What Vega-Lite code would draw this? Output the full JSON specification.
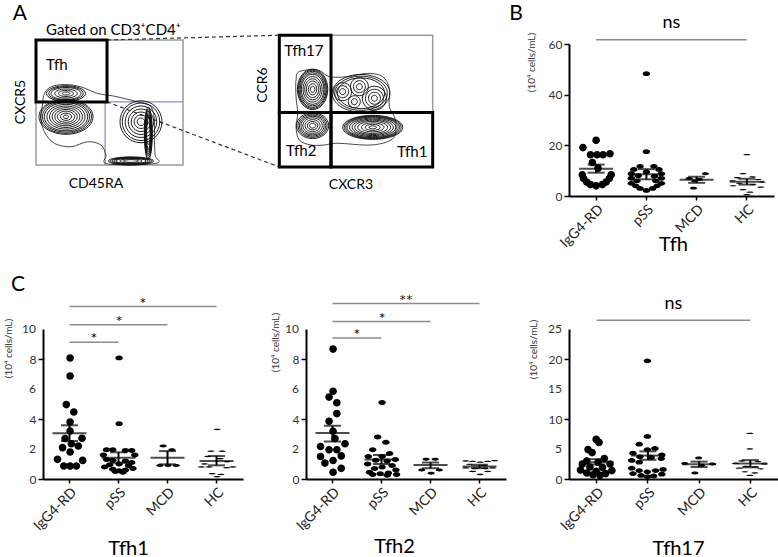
{
"$schema": "https://vega.github.io/schema/vega-lite/v6.json",
"background": "white",
"padding": {"left": 2, "top": 2, "right": 0, "bottom": 0},
"config": {
 "font": "Lato",
 "view": {"stroke": null},
 "axis": {"domainColor": "#000", "domainWidth": 2, "tickColor": "#000", "tickWidth": 1.5, "tickSize": 5, "labelFont": "Lato", "labelColor": "#333", "titleFont": "Lato", "titleFontWeight": "normal", "grid": false, "labelPadding": 2, "labelOverlap": false},
 "axisX": {"labelAngle": -45, "labelFontSize": 14, "titleFontSize": 20, "titleColor": "#000", "labelColor": "#222", "tickSize": 4},
 "axisY": {"labelAngle": 0, "labelFontSize": 12, "titleFontSize": 10, "titleColor": "#333", "titleAngle": 270, "titleAlign": "center", "titleBaseline": "middle", "labelOverlap": false, "labelFlush": false},
 "text": {"font": "Lato", "color": "#000"}
},
"datasets": {
 "pts": [
  {"p":"B","g":"IgG4-RD","v":22.0,"s":0},{"p":"B","g":"IgG4-RD","v":19.1,"s":-2.1},{"p":"B","g":"IgG4-RD","v":16.3,"s":-0.9},{"p":"B","g":"IgG4-RD","v":16.3,"s":0.15},{"p":"B","g":"IgG4-RD","v":16.3,"s":1.1},{"p":"B","g":"IgG4-RD","v":16.7,"s":2.2},{"p":"B","g":"IgG4-RD","v":13.2,"s":-0.6},{"p":"B","g":"IgG4-RD","v":11.0,"s":0.3},{"p":"B","g":"IgG4-RD","v":8.4,"s":-2.2},{"p":"B","g":"IgG4-RD","v":8.4,"s":2.4},{"p":"B","g":"IgG4-RD","v":6.9,"s":-2},{"p":"B","g":"IgG4-RD","v":6.9,"s":2.1},{"p":"B","g":"IgG4-RD","v":5.5,"s":-1.5},{"p":"B","g":"IgG4-RD","v":5.5,"s":1.6},{"p":"B","g":"IgG4-RD","v":4.5,"s":-0.9},{"p":"B","g":"IgG4-RD","v":4.5,"s":1},{"p":"B","g":"IgG4-RD","v":4.0,"s":0},
  {"p":"B","g":"pSS","v":48.3,"s":0},{"p":"B","g":"pSS","v":17.5,"s":0},{"p":"B","g":"pSS","v":11.7,"s":-1},{"p":"B","g":"pSS","v":11.7,"s":1.2},{"p":"B","g":"pSS","v":10.5,"s":-2},{"p":"B","g":"pSS","v":10.5,"s":2},{"p":"B","g":"pSS","v":9.5,"s":0},{"p":"B","g":"pSS","v":8.8,"s":-2.4},{"p":"B","g":"pSS","v":8.8,"s":2.4},{"p":"B","g":"pSS","v":8.0,"s":-1.3},{"p":"B","g":"pSS","v":7.8,"s":1.3},{"p":"B","g":"pSS","v":7.0,"s":-2.4},{"p":"B","g":"pSS","v":7.0,"s":2.4},{"p":"B","g":"pSS","v":6.0,"s":-1.5},{"p":"B","g":"pSS","v":6.0,"s":1.5},{"p":"B","g":"pSS","v":5.0,"s":-2.4},{"p":"B","g":"pSS","v":5.0,"s":2.4},{"p":"B","g":"pSS","v":4.0,"s":-1.7},{"p":"B","g":"pSS","v":4.0,"s":1.7},{"p":"B","g":"pSS","v":3.0,"s":-1},{"p":"B","g":"pSS","v":3.0,"s":1},{"p":"B","g":"pSS","v":2.2,"s":0},
  {"p":"B","g":"MCD","v":8.8,"s":1.4},{"p":"B","g":"MCD","v":6.9,"s":-1.2},{"p":"B","g":"MCD","v":6.5,"s":0.5},{"p":"B","g":"MCD","v":5.9,"s":-0.3},{"p":"B","g":"MCD","v":3.1,"s":-0.5},
  {"p":"B","g":"HC","v":16.3,"s":0},{"p":"B","g":"HC","v":8.8,"s":-0.6},{"p":"B","g":"HC","v":7.5,"s":0.9},{"p":"B","g":"HC","v":7.2,"s":-1.5},{"p":"B","g":"HC","v":6.5,"s":1.8},{"p":"B","g":"HC","v":6.0,"s":-2.3},{"p":"B","g":"HC","v":5.5,"s":2.5},{"p":"B","g":"HC","v":5.0,"s":-1.2},{"p":"B","g":"HC","v":4.5,"s":1.0},{"p":"B","g":"HC","v":4.0,"s":-2.2},{"p":"B","g":"HC","v":3.5,"s":2.2},{"p":"B","g":"HC","v":2.5,"s":-0.6},{"p":"B","g":"HC","v":1.5,"s":0.5},{"p":"B","g":"HC","v":0.5,"s":0},
  {"p":"Tfh1","g":"IgG4-RD","v":8.07,"s":0},{"p":"Tfh1","g":"IgG4-RD","v":6.87,"s":0},{"p":"Tfh1","g":"IgG4-RD","v":4.96,"s":-0.6},{"p":"Tfh1","g":"IgG4-RD","v":4.47,"s":0.6},{"p":"Tfh1","g":"IgG4-RD","v":3.8,"s":0},{"p":"Tfh1","g":"IgG4-RD","v":3.2,"s":0},{"p":"Tfh1","g":"IgG4-RD","v":2.7,"s":-0.8},{"p":"Tfh1","g":"IgG4-RD","v":2.72,"s":1.9},{"p":"Tfh1","g":"IgG4-RD","v":2.35,"s":0.2},{"p":"Tfh1","g":"IgG4-RD","v":2.09,"s":-1.2},{"p":"Tfh1","g":"IgG4-RD","v":2.2,"s":1.3},{"p":"Tfh1","g":"IgG4-RD","v":1.8,"s":0},{"p":"Tfh1","g":"IgG4-RD","v":1.31,"s":-2},{"p":"Tfh1","g":"IgG4-RD","v":1.24,"s":2},{"p":"Tfh1","g":"IgG4-RD","v":0.87,"s":-1},{"p":"Tfh1","g":"IgG4-RD","v":0.86,"s":0},{"p":"Tfh1","g":"IgG4-RD","v":0.87,"s":1},
  {"p":"Tfh1","g":"pSS","v":8.07,"s":0},{"p":"Tfh1","g":"pSS","v":3.69,"s":0},{"p":"Tfh1","g":"pSS","v":1.95,"s":-2},{"p":"Tfh1","g":"pSS","v":1.95,"s":-1},{"p":"Tfh1","g":"pSS","v":1.9,"s":1},{"p":"Tfh1","g":"pSS","v":1.9,"s":2},{"p":"Tfh1","g":"pSS","v":1.6,"s":-2.5},{"p":"Tfh1","g":"pSS","v":1.6,"s":2.5},{"p":"Tfh1","g":"pSS","v":1.3,"s":-2},{"p":"Tfh1","g":"pSS","v":1.25,"s":-1},{"p":"Tfh1","g":"pSS","v":1.2,"s":1},{"p":"Tfh1","g":"pSS","v":1.1,"s":2},{"p":"Tfh1","g":"pSS","v":1.0,"s":0},{"p":"Tfh1","g":"pSS","v":0.95,"s":-1.5},{"p":"Tfh1","g":"pSS","v":0.9,"s":1.5},{"p":"Tfh1","g":"pSS","v":0.8,"s":-2.3},{"p":"Tfh1","g":"pSS","v":0.7,"s":2.2},{"p":"Tfh1","g":"pSS","v":0.65,"s":-1},{"p":"Tfh1","g":"pSS","v":0.6,"s":1},{"p":"Tfh1","g":"pSS","v":0.55,"s":0},{"p":"Tfh1","g":"pSS","v":0.5,"s":-0.6},{"p":"Tfh1","g":"pSS","v":0.45,"s":0.6},
  {"p":"Tfh1","g":"MCD","v":2.2,"s":-0.8},{"p":"Tfh1","g":"MCD","v":1.95,"s":0.6},{"p":"Tfh1","g":"MCD","v":0.9,"s":-1.3},{"p":"Tfh1","g":"MCD","v":0.9,"s":0},{"p":"Tfh1","g":"MCD","v":0.9,"s":1.3},
  {"p":"Tfh1","g":"HC","v":3.3,"s":0},{"p":"Tfh1","g":"HC","v":1.85,"s":-1},{"p":"Tfh1","g":"HC","v":1.85,"s":0.8},{"p":"Tfh1","g":"HC","v":1.5,"s":-1.5},{"p":"Tfh1","g":"HC","v":1.35,"s":0.5},{"p":"Tfh1","g":"HC","v":1.15,"s":1.6},{"p":"Tfh1","g":"HC","v":1.0,"s":-2},{"p":"Tfh1","g":"HC","v":0.8,"s":-2.5},{"p":"Tfh1","g":"HC","v":0.8,"s":-1.3},{"p":"Tfh1","g":"HC","v":0.8,"s":2.5},{"p":"Tfh1","g":"HC","v":0.75,"s":1.5},{"p":"Tfh1","g":"HC","v":0.35,"s":-0.8},{"p":"Tfh1","g":"HC","v":0.3,"s":0.6},{"p":"Tfh1","g":"HC","v":0.15,"s":0},
  {"p":"Tfh2","g":"IgG4-RD","v":8.66,"s":0},{"p":"Tfh2","g":"IgG4-RD","v":5.85,"s":0},{"p":"Tfh2","g":"IgG4-RD","v":5.46,"s":-0.64},{"p":"Tfh2","g":"IgG4-RD","v":5.08,"s":0.6},{"p":"Tfh2","g":"IgG4-RD","v":4.36,"s":0.6},{"p":"Tfh2","g":"IgG4-RD","v":3.85,"s":-0.64},{"p":"Tfh2","g":"IgG4-RD","v":3.18,"s":0},{"p":"Tfh2","g":"IgG4-RD","v":2.7,"s":0.3},{"p":"Tfh2","g":"IgG4-RD","v":2.35,"s":1.9},{"p":"Tfh2","g":"IgG4-RD","v":2.17,"s":-2},{"p":"Tfh2","g":"IgG4-RD","v":1.95,"s":-0.64},{"p":"Tfh2","g":"IgG4-RD","v":1.95,"s":0.6},{"p":"Tfh2","g":"IgG4-RD","v":1.54,"s":1.3},{"p":"Tfh2","g":"IgG4-RD","v":1.5,"s":-2},{"p":"Tfh2","g":"IgG4-RD","v":1.23,"s":0},{"p":"Tfh2","g":"IgG4-RD","v":1.06,"s":-1.3},{"p":"Tfh2","g":"IgG4-RD","v":0.71,"s":1.3},{"p":"Tfh2","g":"IgG4-RD","v":0.45,"s":0},
  {"p":"Tfh2","g":"pSS","v":5.1,"s":0},{"p":"Tfh2","g":"pSS","v":2.8,"s":-0.7},{"p":"Tfh2","g":"pSS","v":2.45,"s":0.6},{"p":"Tfh2","g":"pSS","v":1.95,"s":-1.5},{"p":"Tfh2","g":"pSS","v":1.7,"s":1.2},{"p":"Tfh2","g":"pSS","v":1.5,"s":-2.2},{"p":"Tfh2","g":"pSS","v":1.5,"s":0},{"p":"Tfh2","g":"pSS","v":1.3,"s":2.1},{"p":"Tfh2","g":"pSS","v":1.25,"s":-1},{"p":"Tfh2","g":"pSS","v":1.2,"s":0.8},{"p":"Tfh2","g":"pSS","v":1.0,"s":-2.3},{"p":"Tfh2","g":"pSS","v":0.9,"s":1.6},{"p":"Tfh2","g":"pSS","v":0.8,"s":0},{"p":"Tfh2","g":"pSS","v":0.7,"s":-1.2},{"p":"Tfh2","g":"pSS","v":0.6,"s":2.2},{"p":"Tfh2","g":"pSS","v":0.45,"s":-2},{"p":"Tfh2","g":"pSS","v":0.4,"s":1},{"p":"Tfh2","g":"pSS","v":0.35,"s":-0.3},{"p":"Tfh2","g":"pSS","v":0.3,"s":2.3},{"p":"Tfh2","g":"pSS","v":0.3,"s":-1.5},{"p":"Tfh2","g":"pSS","v":0.25,"s":0.8},
  {"p":"Tfh2","g":"MCD","v":1.32,"s":-0.8},{"p":"Tfh2","g":"MCD","v":1.32,"s":0.64},{"p":"Tfh2","g":"MCD","v":0.6,"s":-1.5},{"p":"Tfh2","g":"MCD","v":0.6,"s":1.3},{"p":"Tfh2","g":"MCD","v":0.38,"s":0},
  {"p":"Tfh2","g":"HC","v":1.2,"s":-2.3},{"p":"Tfh2","g":"HC","v":1.17,"s":-1.2},{"p":"Tfh2","g":"HC","v":1.12,"s":0},{"p":"Tfh2","g":"HC","v":1.17,"s":1.2},{"p":"Tfh2","g":"HC","v":1.22,"s":2.3},{"p":"Tfh2","g":"HC","v":0.98,"s":-1.7},{"p":"Tfh2","g":"HC","v":0.9,"s":0.6},{"p":"Tfh2","g":"HC","v":0.74,"s":-2.3},{"p":"Tfh2","g":"HC","v":0.7,"s":-0.8},{"p":"Tfh2","g":"HC","v":0.7,"s":0.8},{"p":"Tfh2","g":"HC","v":0.74,"s":2.0},{"p":"Tfh2","g":"HC","v":0.5,"s":-1.2},{"p":"Tfh2","g":"HC","v":0.5,"s":1.2},{"p":"Tfh2","g":"HC","v":0.3,"s":0},
  {"p":"Tfh17","g":"IgG4-RD","v":6.6,"s":0},{"p":"Tfh17","g":"IgG4-RD","v":6.1,"s":0.45},{"p":"Tfh17","g":"IgG4-RD","v":4.9,"s":-1.3},{"p":"Tfh17","g":"IgG4-RD","v":4.4,"s":-0.65},{"p":"Tfh17","g":"IgG4-RD","v":3.4,"s":1.3},{"p":"Tfh17","g":"IgG4-RD","v":3.0,"s":-1.5},{"p":"Tfh17","g":"IgG4-RD","v":2.8,"s":0.3},{"p":"Tfh17","g":"IgG4-RD","v":2.5,"s":-2.2},{"p":"Tfh17","g":"IgG4-RD","v":2.5,"s":2.2},{"p":"Tfh17","g":"IgG4-RD","v":2.0,"s":-1},{"p":"Tfh17","g":"IgG4-RD","v":1.9,"s":1},{"p":"Tfh17","g":"IgG4-RD","v":1.5,"s":-2.5},{"p":"Tfh17","g":"IgG4-RD","v":1.4,"s":2.5},{"p":"Tfh17","g":"IgG4-RD","v":1.3,"s":0},{"p":"Tfh17","g":"IgG4-RD","v":1.0,"s":-1.5},{"p":"Tfh17","g":"IgG4-RD","v":0.9,"s":1.5},{"p":"Tfh17","g":"IgG4-RD","v":0.7,"s":-0.5},{"p":"Tfh17","g":"IgG4-RD","v":0.6,"s":0.6},
  {"p":"Tfh17","g":"pSS","v":19.7,"s":0},{"p":"Tfh17","g":"pSS","v":7.1,"s":0},{"p":"Tfh17","g":"pSS","v":5.8,"s":-1.3},{"p":"Tfh17","g":"pSS","v":5.1,"s":1.2},{"p":"Tfh17","g":"pSS","v":4.9,"s":0},{"p":"Tfh17","g":"pSS","v":4.3,"s":-2.3},{"p":"Tfh17","g":"pSS","v":4.0,"s":2.3},{"p":"Tfh17","g":"pSS","v":3.7,"s":-1.2},{"p":"Tfh17","g":"pSS","v":3.6,"s":0.6},{"p":"Tfh17","g":"pSS","v":3.4,"s":2.2},{"p":"Tfh17","g":"pSS","v":3.1,"s":-2.5},{"p":"Tfh17","g":"pSS","v":2.8,"s":-1.3},{"p":"Tfh17","g":"pSS","v":1.8,"s":-2.5},{"p":"Tfh17","g":"pSS","v":1.6,"s":2.5},{"p":"Tfh17","g":"pSS","v":1.4,"s":-1.3},{"p":"Tfh17","g":"pSS","v":1.4,"s":1.3},{"p":"Tfh17","g":"pSS","v":1.2,"s":0},{"p":"Tfh17","g":"pSS","v":0.9,"s":-2.3},{"p":"Tfh17","g":"pSS","v":0.8,"s":2.3},{"p":"Tfh17","g":"pSS","v":0.6,"s":-1},{"p":"Tfh17","g":"pSS","v":0.5,"s":1},{"p":"Tfh17","g":"pSS","v":0.4,"s":0},
  {"p":"Tfh17","g":"MCD","v":3.5,"s":0},{"p":"Tfh17","g":"MCD","v":2.6,"s":-2.2},{"p":"Tfh17","g":"MCD","v":2.5,"s":2.2},{"p":"Tfh17","g":"MCD","v":2.3,"s":0.5},{"p":"Tfh17","g":"MCD","v":1.0,"s":-0.6},
  {"p":"Tfh17","g":"HC","v":7.6,"s":0},{"p":"Tfh17","g":"HC","v":5.0,"s":0},{"p":"Tfh17","g":"HC","v":3.0,"s":-1.3},{"p":"Tfh17","g":"HC","v":2.9,"s":1.3},{"p":"Tfh17","g":"HC","v":2.6,"s":-2.3},{"p":"Tfh17","g":"HC","v":2.5,"s":2.3},{"p":"Tfh17","g":"HC","v":2.1,"s":-0.6},{"p":"Tfh17","g":"HC","v":2.0,"s":0.8},{"p":"Tfh17","g":"HC","v":1.8,"s":-1.7},{"p":"Tfh17","g":"HC","v":1.7,"s":1.7},{"p":"Tfh17","g":"HC","v":1.2,"s":-0.8},{"p":"Tfh17","g":"HC","v":1.0,"s":0.8},{"p":"Tfh17","g":"HC","v":0.6,"s":0}
 ],
 "summ": [
  {"p":"B","g":"IgG4-RD","m":10.8,"lo":9.2,"hi":12.4},{"p":"B","g":"pSS","m":8.6,"lo":6.6,"hi":10.6},{"p":"B","g":"MCD","m":6.45,"lo":5.2,"hi":7.6},{"p":"B","g":"HC","m":5.6,"lo":4.5,"hi":6.8},
  {"p":"Tfh1","g":"IgG4-RD","m":3.05,"lo":2.53,"hi":3.58},{"p":"Tfh1","g":"pSS","m":1.42,"lo":1.08,"hi":1.78},{"p":"Tfh1","g":"MCD","m":1.42,"lo":0.98,"hi":1.86},{"p":"Tfh1","g":"HC","m":1.2,"lo":0.91,"hi":1.53},
  {"p":"Tfh2","g":"IgG4-RD","m":3.06,"lo":2.5,"hi":3.55},{"p":"Tfh2","g":"pSS","m":1.3,"lo":1.0,"hi":1.6},{"p":"Tfh2","g":"MCD","m":0.94,"lo":0.72,"hi":1.1},{"p":"Tfh2","g":"HC","m":0.83,"lo":0.72,"hi":0.95},
  {"p":"Tfh17","g":"IgG4-RD","m":2.8,"lo":2.4,"hi":3.3},{"p":"Tfh17","g":"pSS","m":3.9,"lo":3.2,"hi":4.6},{"p":"Tfh17","g":"MCD","m":2.47,"lo":2.0,"hi":2.9},{"p":"Tfh17","g":"HC","m":2.6,"lo":1.95,"hi":3.15}
 ],
 "sig": [
  {"p":"B","a":"IgG4-RD","b":"HC","m":"MCD","s":-4,"v":61.7,"t":"ns"},
  {"p":"Tfh1","a":"IgG4-RD","b":"pSS","m":"pSS","s":-4,"v":9.12,"t":"*"},
  {"p":"Tfh1","a":"IgG4-RD","b":"MCD","m":"pSS","s":0,"v":10.29,"t":"*"},
  {"p":"Tfh1","a":"IgG4-RD","b":"HC","m":"MCD","s":-4,"v":11.5,"t":"*"},
  {"p":"Tfh2","a":"IgG4-RD","b":"pSS","m":"pSS","s":-4,"v":9.4,"t":"*"},
  {"p":"Tfh2","a":"IgG4-RD","b":"MCD","m":"pSS","s":0,"v":10.5,"t":"*"},
  {"p":"Tfh2","a":"IgG4-RD","b":"HC","m":"MCD","s":-4,"v":11.7,"t":"**"},
  {"p":"Tfh17","a":"IgG4-RD","b":"HC","m":"MCD","s":-4,"v":26.45,"t":"ns"}
 ],
 "letters": [
  {"p":"B","t":"B","g":"IgG4-RD","v":71.85},
  {"p":"Tfh1","t":"C","g":"IgG4-RD","v":12.93}
 ],
 "ylab": [
  {"p":"Tfh1","g":"IgG4-RD","v":2,"t":"2"},{"p":"Tfh1","g":"IgG4-RD","v":6,"t":"6"},{"p":"Tfh1","g":"IgG4-RD","v":10,"t":"10"},
  {"p":"Tfh2","g":"IgG4-RD","v":2,"t":"2"},{"p":"Tfh2","g":"IgG4-RD","v":6,"t":"6"},{"p":"Tfh2","g":"IgG4-RD","v":10,"t":"10"},
  {"p":"Tfh17","g":"IgG4-RD","v":5,"t":"5"},{"p":"Tfh17","g":"IgG4-RD","v":15,"t":"15"},{"p":"Tfh17","g":"IgG4-RD","v":25,"t":"25"}
 ],
 "fLrect": [
  {"k":"frame","x1":0,"x2":100,"y1":0,"y2":100},
  {"k":"gate","x1":0,"x2":48.3,"y1":50.5,"y2":100}
 ],
 "fLrule": [
  {"k":"dash","x1":48.3,"y1":100,"x2":165.5,"y2":103.8},
  {"k":"dash","x1":48.3,"y1":50.5,"x2":165.5,"y2":-1.6},
  {"k":"blue","x1":47,"y1":0,"x2":47,"y2":50.5},
  {"k":"blue","x1":47,"y1":50.5,"x2":100,"y2":50.5}
 ],
 "fLenv": [
  {"i":1,"x":5.7,"y":57.2},{"i":2,"x":10.2,"y":62.5},{"i":3,"x":19.3,"y":64.4},{"i":4,"x":30.6,"y":62.5},{"i":5,"x":42,"y":57.2},{"i":6,"x":52.2,"y":55.3},{"i":7,"x":64.6,"y":51.9},{"i":8,"x":73.7,"y":49.2},{"i":9,"x":78.2,"y":46.5},{"i":10,"x":80.5,"y":37.2},{"i":11,"x":80.5,"y":21.3},{"i":12,"x":81,"y":8},{"i":13,"x":81.6,"y":1.3},{"i":14,"x":48.8,"y":0.8},{"i":15,"x":47.6,"y":8},{"i":16,"x":44.2,"y":16},{"i":17,"x":35.1,"y":18.6},{"i":18,"x":23.8,"y":14.6},{"i":19,"x":12.5,"y":17.3},{"i":20,"x":5.7,"y":26.6},{"i":21,"x":3.4,"y":37.2},{"i":22,"x":4.5,"y":49.2}
 ],
 "fLring": [
  {"cx":20.4,"cy":57.2,"form":"oblong","ring":[1,2,3,4,4.6,5.2]},
  {"cx":20.4,"cy":38.6,"form":"wide","ring":[0.7,1.5,2.3,3,3.7,4.4,5.1,5.8,6.3,6.8,7.2]},
  {"cx":71.4,"cy":34.6,"form":"round","ring":[1,1.8,2.6,3.4,4.2,5,5.6]},
  {"cx":76.4,"cy":25.3,"form":"narrow","ring":[3,4,4.5,5,5.5,6,6.5,7]},
  {"cx":64.6,"cy":3.2,"form":"flat","ring":[2,3,4,4.5,5,5.5,6]}
 ],
 "fLtext": [
  {"k":"A","t":"A","x":-10.9,"y":120.8},
  {"k":"left","t":"Gated on CD3⁺CD4⁺","x":6.8,"y":108},
  {"k":"left","t":"Tfh","x":6.8,"y":80},
  {"k":"c","t":"CD45RA","x":40.8,"y":-15.2},
  {"k":"rot","t":"CXCR5","x":-10.2,"y":50.4}
 ],
 "fRrect": [
  {"k":"frame","x1":0,"x2":100,"y1":0,"y2":100},
  {"k":"gate","x1":0,"x2":33.7,"y1":41.3,"y2":100},
  {"k":"gate","x1":0,"x2":33.7,"y1":0,"y2":41.3},
  {"k":"gate","x1":33.7,"x2":100,"y1":0,"y2":41.3}
 ],
 "fRenv": [
  {"i":1,"x":13,"y":72.4},{"i":2,"x":25,"y":73.7},{"i":3,"x":32.6,"y":68.6},{"i":4,"x":44.6,"y":68.6},{"i":5,"x":57.6,"y":71.1},{"i":6,"x":67.4,"y":68.6},{"i":7,"x":71.7,"y":59.7},{"i":8,"x":71.7,"y":45.8},{"i":9,"x":75,"y":38.2},{"i":10,"x":76.1,"y":28.1},{"i":11,"x":72.8,"y":20.5},{"i":12,"x":59.8,"y":16.7},{"i":13,"x":38,"y":18},{"i":14,"x":29.3,"y":16.7},{"i":15,"x":20.7,"y":16.7},{"i":16,"x":13,"y":20.5},{"i":17,"x":10.9,"y":30.6},{"i":18,"x":12,"y":40.8},{"i":19,"x":10.9,"y":53.4},{"i":20,"x":10.9,"y":66.1}
 ],
 "fRring": [
  {"cx":21.7,"cy":59,"form":"tall","ring":[0.8,1.5,2.2,2.8,3.4,4,4.4,4.8,5.1,5.4]},
  {"cx":21.7,"cy":31.4,"form":"oval","ring":[0.8,1.4,2,2.6,3.1,3.5,3.9,4.3]},
  {"cx":60.9,"cy":30.1,"form":"oblong","ring":[1,2,3,4,4.8,5.5,6.2,6.8,7.2,7.6,8]},
  {"cx":53.3,"cy":56,"form":"wide","ring":[6.3,7,7.7]},
  {"cx":41.3,"cy":57.2,"form":"round","ring":[0.8,1.6,2.4]},
  {"cx":52.2,"cy":61,"form":"round","ring":[0.8,1.6,2.4]},
  {"cx":62,"cy":52.2,"form":"round","ring":[0.8,1.6,2.4,3.2]},
  {"cx":48.9,"cy":49.6,"form":"round","ring":[0.8,1.6]}
 ],
 "fRtext": [
  {"k":"left","t":"Tfh17","x":3.3,"y":88},
  {"k":"left","t":"Tfh2","x":4.4,"y":11.8},
  {"k":"left","t":"Tfh1","x":76.7,"y":11.4},
  {"k":"c","t":"CXCR3","x":46.7,"y":-13.7},
  {"k":"rot","t":"CCR6","x":-10.6,"y":62.3}
 ]
},
"columns": 3,
"align": "none",
"bounds": "flush",
"spacing": {"row": 133, "column": 63},
"concat": [
  {"width": 200, "height": 152, "layer": [
   {"data": {"name": "fLrect"}, "transform": [{"filter": "datum.k=='frame'"}], "mark": {"type": "rect", "filled": false, "color": "#9a9a9a", "strokeWidth": 1.5},
    "encoding": {"x": {"field": "x1", "type": "quantitative", "scale": {"domain": [4.76, 140.8], "zero": false, "nice": false}, "axis": null}, "x2": {"field": "x2"}, "y": {"field": "y1", "type": "quantitative", "scale": {"domain": [-24.8, 96.8], "zero": false, "nice": false}, "axis": null}, "y2": {"field": "y2"}}},
   {"data": {"name": "fLrule"}, "transform": [{"filter": "datum.k=='dash'"}], "mark": {"type": "rule", "color": "#333", "strokeWidth": 1.2, "strokeDash": [4, 3]},
    "encoding": {"x": {"field": "x1", "type": "quantitative"}, "x2": {"field": "x2"}, "y": {"field": "y1", "type": "quantitative"}, "y2": {"field": "y2"}}},
   {"data": {"name": "fLrule"}, "transform": [{"filter": "datum.k=='blue'"}], "mark": {"type": "rule", "color": "#6b6bd6", "strokeWidth": 1},
    "encoding": {"x": {"field": "x1", "type": "quantitative"}, "x2": {"field": "x2"}, "y": {"field": "y1", "type": "quantitative"}, "y2": {"field": "y2"}}},
   {"data": {"name": "fLenv"}, "mark": {"type": "line", "interpolate": "cardinal-closed", "color": "#333", "strokeWidth": 0.9},
    "encoding": {"x": {"field": "x", "type": "quantitative"}, "y": {"field": "y", "type": "quantitative"}, "order": {"field": "i", "type": "quantitative"}}},
   {"data": {"name": "fLring"}, "transform": [{"flatten": ["ring"]}], "mark": {"type": "point", "filled": false, "color": "#111", "strokeWidth": 0.95, "opacity": 1},
    "encoding": {"x": {"field": "cx", "type": "quantitative"}, "y": {"field": "cy", "type": "quantitative"},
     "shape": {"field": "form", "type": "nominal", "legend": null, "scale": {"domain": ["round", "wide", "oblong", "flat", "oval", "tall", "narrow"], "range": ["M-1,0A1,1,0,1,0,1,0A1,1,0,1,0,-1,0Z", "M-1,0A1,0.65,0,1,0,1,0A1,0.65,0,1,0,-1,0Z", "M-1,0A1,0.4,0,1,0,1,0A1,0.4,0,1,0,-1,0Z", "M-1,0A1,0.18,0,1,0,1,0A1,0.18,0,1,0,-1,0Z", "M-1,0A1,0.8,0,1,0,1,0A1,0.8,0,1,0,-1,0Z", "M0,-1A0.75,1,0,1,0,0,1A0.75,1,0,1,0,0,-1Z", "M0,-1A0.15,1,0,1,0,0,1A0.15,1,0,1,0,0,-1Z"]}},
     "size": {"field": "ring", "type": "quantitative", "legend": null, "scale": {"type": "pow", "exponent": 2, "domain": [0, 8], "range": [0, 3600]}}}},
   {"data": {"name": "fLrect"}, "transform": [{"filter": "datum.k=='gate'"}], "mark": {"type": "rect", "filled": false, "color": "#000", "strokeWidth": 3},
    "encoding": {"x": {"field": "x1", "type": "quantitative"}, "x2": {"field": "x2"}, "y": {"field": "y1", "type": "quantitative"}, "y2": {"field": "y2"}}},
   {"data": {"name": "fLtext"}, "transform": [{"filter": "datum.k=='A'"}], "mark": {"type": "text", "fontSize": 21, "align": "center", "baseline": "middle"},
    "encoding": {"x": {"field": "x", "type": "quantitative"}, "y": {"field": "y", "type": "quantitative"}, "text": {"field": "t"}}},
   {"data": {"name": "fLtext"}, "transform": [{"filter": "datum.k=='left'"}], "mark": {"type": "text", "fontSize": 15, "align": "left", "baseline": "middle"},
    "encoding": {"x": {"field": "x", "type": "quantitative"}, "y": {"field": "y", "type": "quantitative"}, "text": {"field": "t"}}},
   {"data": {"name": "fLtext"}, "transform": [{"filter": "datum.k=='c'"}], "mark": {"type": "text", "fontSize": 14, "align": "center", "baseline": "middle"},
    "encoding": {"x": {"field": "x", "type": "quantitative"}, "y": {"field": "y", "type": "quantitative"}, "text": {"field": "t"}}},
   {"data": {"name": "fLtext"}, "transform": [{"filter": "datum.k=='rot'"}], "mark": {"type": "text", "fontSize": 14, "align": "center", "baseline": "middle", "angle": 270},
    "encoding": {"x": {"field": "x", "type": "quantitative"}, "y": {"field": "y", "type": "quantitative"}, "text": {"field": "t"}}}
  ]},
  {"width": 200, "height": 152, "layer": [
   {"data": {"name": "fRrect"}, "transform": [{"filter": "datum.k=='frame'"}], "mark": {"type": "rect", "filled": false, "color": "#9a9a9a", "strokeWidth": 1.5},
    "encoding": {"x": {"field": "x1", "type": "quantitative", "scale": {"domain": [17.4, 147.8], "zero": false, "nice": false}, "axis": null}, "x2": {"field": "x2"}, "y": {"field": "y1", "type": "quantitative", "scale": {"domain": [-22.02, 93.4], "zero": false, "nice": false}, "axis": null}, "y2": {"field": "y2"}}},
   {"data": {"name": "fRenv"}, "mark": {"type": "line", "interpolate": "cardinal-closed", "color": "#333", "strokeWidth": 0.9},
    "encoding": {"x": {"field": "x", "type": "quantitative"}, "y": {"field": "y", "type": "quantitative"}, "order": {"field": "i", "type": "quantitative"}}},
   {"data": {"name": "fRring"}, "transform": [{"flatten": ["ring"]}], "mark": {"type": "point", "filled": false, "color": "#111", "strokeWidth": 0.95, "opacity": 1},
    "encoding": {"x": {"field": "cx", "type": "quantitative"}, "y": {"field": "cy", "type": "quantitative"},
     "shape": {"field": "form", "type": "nominal", "legend": null, "scale": {"domain": ["round", "wide", "oblong", "flat", "oval", "tall", "narrow"], "range": ["M-1,0A1,1,0,1,0,1,0A1,1,0,1,0,-1,0Z", "M-1,0A1,0.65,0,1,0,1,0A1,0.65,0,1,0,-1,0Z", "M-1,0A1,0.4,0,1,0,1,0A1,0.4,0,1,0,-1,0Z", "M-1,0A1,0.18,0,1,0,1,0A1,0.18,0,1,0,-1,0Z", "M-1,0A1,0.8,0,1,0,1,0A1,0.8,0,1,0,-1,0Z", "M0,-1A0.75,1,0,1,0,0,1A0.75,1,0,1,0,0,-1Z", "M0,-1A0.15,1,0,1,0,0,1A0.15,1,0,1,0,0,-1Z"]}},
     "size": {"field": "ring", "type": "quantitative", "legend": null, "scale": {"type": "pow", "exponent": 2, "domain": [0, 8], "range": [0, 3600]}}}},
   {"data": {"name": "fRrect"}, "transform": [{"filter": "datum.k=='gate'"}], "mark": {"type": "rect", "filled": false, "color": "#000", "strokeWidth": 3},
    "encoding": {"x": {"field": "x1", "type": "quantitative"}, "x2": {"field": "x2"}, "y": {"field": "y1", "type": "quantitative"}, "y2": {"field": "y2"}}},
   {"data": {"name": "fRtext"}, "transform": [{"filter": "datum.k=='left'"}], "mark": {"type": "text", "fontSize": 15, "align": "left", "baseline": "middle"},
    "encoding": {"x": {"field": "x", "type": "quantitative"}, "y": {"field": "y", "type": "quantitative"}, "text": {"field": "t"}}},
   {"data": {"name": "fRtext"}, "transform": [{"filter": "datum.k=='c'"}], "mark": {"type": "text", "fontSize": 14, "align": "center", "baseline": "middle"},
    "encoding": {"x": {"field": "x", "type": "quantitative"}, "y": {"field": "y", "type": "quantitative"}, "text": {"field": "t"}}},
   {"data": {"name": "fRtext"}, "transform": [{"filter": "datum.k=='rot'"}], "mark": {"type": "text", "fontSize": 14, "align": "center", "baseline": "middle", "angle": 270},
    "encoding": {"x": {"field": "x", "type": "quantitative"}, "y": {"field": "y", "type": "quantitative"}, "text": {"field": "t"}}}
  ]},
  {"width": 205, "height": 152, "layer": [
   {"data": {"name": "pts"}, "transform": [{"filter": "datum.p=='B'"}], "mark": {"type": "point", "filled": true, "color": "#000", "opacity": 1, "strokeWidth": 0},
    "encoding": {
     "x": {"field": "g", "type": "nominal", "scale": {"type": "band", "domain": ["IgG4-RD", "pSS", "MCD", "HC"], "paddingInner": 0, "paddingOuter": 0.04}, "axis": {"title": "Tfh", "titleX": 104, "titleY": 54, "titleBaseline": "alphabetic", "labelOverlap": false}},
     "xOffset": {"field": "s", "type": "quantitative", "scale": {"domain": [-4, 4]}},
     "y": {"field": "v", "type": "quantitative", "scale": {"domain": [0, 60], "nice": false}, "axis": {"values": [0, 20, 40, 60], "title": "(10⁴ cells/mL)", "titleX": -38, "titleY": 18, "labelOverlap": false}},
     "shape": {"field": "g", "type": "nominal", "legend": null, "scale": {"domain": ["IgG4-RD", "pSS", "MCD", "HC"], "range": ["circle", "square", "M0,-0.9L1,0.85L-1,0.85Z", "M0,0.9L1,-0.85L-1,-0.85Z"]}},
     "size": {"field": "g", "type": "ordinal", "legend": null, "scale": {"domain": ["IgG4-RD", "pSS", "MCD", "HC"], "range": [58, 50, 90, 90]}}}},
   {"data": {"name": "sig"}, "transform": [{"filter": "datum.p=='B'"}], "mark": {"type": "rule", "color": "#8c8c8c", "strokeWidth": 1.5},
    "encoding": {"x": {"field": "a", "type": "nominal", "bandPosition": 0.5}, "x2": {"field": "b", "bandPosition": 0.5}, "y": {"field": "v", "type": "quantitative"}}},
   {"data": {"name": "sig"}, "transform": [{"filter": "datum.p=='B'"}], "mark": {"type": "text", "fontSize": 18, "dy": -11.5, "baseline": "alphabetic", "align": "center"},
    "encoding": {"x": {"field": "m", "type": "nominal"}, "xOffset": {"field": "s", "type": "quantitative"}, "y": {"field": "v", "type": "quantitative"}, "text": {"field": "t"}}},
   {"data": {"name": "summ"}, "transform": [{"filter": "datum.p=='B'"}], "mark": {"type": "rule", "color": "#000", "strokeWidth": 2},
    "encoding": {"x": {"field": "g", "type": "nominal"}, "y": {"field": "lo", "type": "quantitative"}, "y2": {"field": "hi"}}},
   {"data": {"name": "summ"}, "transform": [{"filter": "datum.p=='B'"}], "mark": {"type": "tick", "color": "#000", "thickness": 2, "size": 34},
    "encoding": {"x": {"field": "g", "type": "nominal"}, "y": {"field": "m", "type": "quantitative"}}},
   {"data": {"name": "summ"}, "transform": [{"filter": "datum.p=='B'"}], "mark": {"type": "tick", "color": "#000", "thickness": 2, "size": 17},
    "encoding": {"x": {"field": "g", "type": "nominal"}, "y": {"field": "lo", "type": "quantitative"}}},
   {"data": {"name": "summ"}, "transform": [{"filter": "datum.p=='B'"}], "mark": {"type": "tick", "color": "#000", "thickness": 2, "size": 17},
    "encoding": {"x": {"field": "g", "type": "nominal"}, "y": {"field": "hi", "type": "quantitative"}}},
   {"data": {"name": "letters"}, "transform": [{"filter": "datum.p=='B'"}], "mark": {"type": "text", "fontSize": 21, "dx": -80, "align": "center", "baseline": "middle"},
    "encoding": {"x": {"field": "g", "type": "nominal"}, "y": {"field": "v", "type": "quantitative"}, "text": {"field": "t"}}}
  ]},
  {"width": 200, "height": 150, "layer": [
   {"data": {"name": "pts"}, "transform": [{"filter": "datum.p=='Tfh1'"}], "mark": {"type": "point", "filled": true, "color": "#000", "opacity": 1, "strokeWidth": 0},
    "encoding": {
     "x": {"field": "g", "type": "nominal", "scale": {"type": "band", "domain": ["IgG4-RD", "pSS", "MCD", "HC"], "paddingInner": 0, "paddingOuter": 0.04}, "axis": {"title": "Tfh1", "titleX": 85, "titleY": 75, "titleBaseline": "alphabetic", "labelOverlap": false}},
     "xOffset": {"field": "s", "type": "quantitative", "scale": {"domain": [-4, 4]}},
     "y": {"field": "v", "type": "quantitative", "scale": {"domain": [0, 10], "nice": false}, "axis": {"values": [0, 2, 4, 6, 8, 10], "title": "(10⁴ cells/mL)", "titleX": -35, "titleY": 19, "labelOverlap": false}},
     "shape": {"field": "g", "type": "nominal", "legend": null, "scale": {"domain": ["IgG4-RD", "pSS", "MCD", "HC"], "range": ["circle", "square", "M0,-0.9L1,0.85L-1,0.85Z", "M0,0.9L1,-0.85L-1,-0.85Z"]}},
     "size": {"field": "g", "type": "ordinal", "legend": null, "scale": {"domain": ["IgG4-RD", "pSS", "MCD", "HC"], "range": [58, 50, 90, 90]}}}},
   {"data": {"name": "ylab"}, "transform": [{"filter": "datum.p=='Tfh1'"}], "mark": {"type": "text", "fontSize": 12, "color": "#333", "align": "right", "baseline": "middle", "dx": -33.5},
    "encoding": {"x": {"field": "g", "type": "nominal"}, "y": {"field": "v", "type": "quantitative"}, "text": {"field": "t"}}},
   {"data": {"name": "sig"}, "transform": [{"filter": "datum.p=='Tfh1'"}], "mark": {"type": "rule", "color": "#8c8c8c", "strokeWidth": 1.5},
    "encoding": {"x": {"field": "a", "type": "nominal", "bandPosition": 0.5}, "x2": {"field": "b", "bandPosition": 0.5}, "y": {"field": "v", "type": "quantitative"}}},
   {"data": {"name": "sig"}, "transform": [{"filter": "datum.p=='Tfh1'"}], "mark": {"type": "text", "fontSize": 16, "dy": 2, "baseline": "alphabetic", "align": "center"},
    "encoding": {"x": {"field": "m", "type": "nominal"}, "xOffset": {"field": "s", "type": "quantitative"}, "y": {"field": "v", "type": "quantitative"}, "text": {"field": "t"}}},
   {"data": {"name": "summ"}, "transform": [{"filter": "datum.p=='Tfh1'"}], "mark": {"type": "rule", "color": "#000", "strokeWidth": 2},
    "encoding": {"x": {"field": "g", "type": "nominal"}, "y": {"field": "lo", "type": "quantitative"}, "y2": {"field": "hi"}}},
   {"data": {"name": "summ"}, "transform": [{"filter": "datum.p=='Tfh1'"}], "mark": {"type": "tick", "color": "#000", "thickness": 2, "size": 34},
    "encoding": {"x": {"field": "g", "type": "nominal"}, "y": {"field": "m", "type": "quantitative"}}},
   {"data": {"name": "summ"}, "transform": [{"filter": "datum.p=='Tfh1'"}], "mark": {"type": "tick", "color": "#000", "thickness": 2, "size": 17},
    "encoding": {"x": {"field": "g", "type": "nominal"}, "y": {"field": "lo", "type": "quantitative"}}},
   {"data": {"name": "summ"}, "transform": [{"filter": "datum.p=='Tfh1'"}], "mark": {"type": "tick", "color": "#000", "thickness": 2, "size": 17},
    "encoding": {"x": {"field": "g", "type": "nominal"}, "y": {"field": "hi", "type": "quantitative"}}},
   {"data": {"name": "letters"}, "transform": [{"filter": "datum.p=='Tfh1'"}], "mark": {"type": "text", "fontSize": 21, "dx": -51.5, "align": "center", "baseline": "middle"},
    "encoding": {"x": {"field": "g", "type": "nominal"}, "y": {"field": "v", "type": "quantitative"}, "text": {"field": "t"}}}
  ]},
  {"width": 200, "height": 150, "layer": [
   {"data": {"name": "pts"}, "transform": [{"filter": "datum.p=='Tfh2'"}], "mark": {"type": "point", "filled": true, "color": "#000", "opacity": 1, "strokeWidth": 0},
    "encoding": {
     "x": {"field": "g", "type": "nominal", "scale": {"type": "band", "domain": ["IgG4-RD", "pSS", "MCD", "HC"], "paddingInner": 0, "paddingOuter": 0.04}, "axis": {"title": "Tfh2", "titleX": 88, "titleY": 73, "titleBaseline": "alphabetic", "labelOverlap": false}},
     "xOffset": {"field": "s", "type": "quantitative", "scale": {"domain": [-4, 4]}},
     "y": {"field": "v", "type": "quantitative", "scale": {"domain": [0, 10], "nice": false}, "axis": {"values": [0, 2, 4, 6, 8, 10], "title": "(10⁴ cells/mL)", "titleX": -31, "titleY": 13, "labelOverlap": false}},
     "shape": {"field": "g", "type": "nominal", "legend": null, "scale": {"domain": ["IgG4-RD", "pSS", "MCD", "HC"], "range": ["circle", "square", "M0,-0.9L1,0.85L-1,0.85Z", "M0,0.9L1,-0.85L-1,-0.85Z"]}},
     "size": {"field": "g", "type": "ordinal", "legend": null, "scale": {"domain": ["IgG4-RD", "pSS", "MCD", "HC"], "range": [58, 50, 90, 90]}}}},
   {"data": {"name": "ylab"}, "transform": [{"filter": "datum.p=='Tfh2'"}], "mark": {"type": "text", "fontSize": 12, "color": "#333", "align": "right", "baseline": "middle", "dx": -33.5},
    "encoding": {"x": {"field": "g", "type": "nominal"}, "y": {"field": "v", "type": "quantitative"}, "text": {"field": "t"}}},
   {"data": {"name": "sig"}, "transform": [{"filter": "datum.p=='Tfh2'"}], "mark": {"type": "rule", "color": "#8c8c8c", "strokeWidth": 1.5},
    "encoding": {"x": {"field": "a", "type": "nominal", "bandPosition": 0.5}, "x2": {"field": "b", "bandPosition": 0.5}, "y": {"field": "v", "type": "quantitative"}}},
   {"data": {"name": "sig"}, "transform": [{"filter": "datum.p=='Tfh2'"}], "mark": {"type": "text", "fontSize": 16, "dy": 2, "baseline": "alphabetic", "align": "center"},
    "encoding": {"x": {"field": "m", "type": "nominal"}, "xOffset": {"field": "s", "type": "quantitative"}, "y": {"field": "v", "type": "quantitative"}, "text": {"field": "t"}}},
   {"data": {"name": "summ"}, "transform": [{"filter": "datum.p=='Tfh2'"}], "mark": {"type": "rule", "color": "#000", "strokeWidth": 2},
    "encoding": {"x": {"field": "g", "type": "nominal"}, "y": {"field": "lo", "type": "quantitative"}, "y2": {"field": "hi"}}},
   {"data": {"name": "summ"}, "transform": [{"filter": "datum.p=='Tfh2'"}], "mark": {"type": "tick", "color": "#000", "thickness": 2, "size": 34},
    "encoding": {"x": {"field": "g", "type": "nominal"}, "y": {"field": "m", "type": "quantitative"}}},
   {"data": {"name": "summ"}, "transform": [{"filter": "datum.p=='Tfh2'"}], "mark": {"type": "tick", "color": "#000", "thickness": 2, "size": 17},
    "encoding": {"x": {"field": "g", "type": "nominal"}, "y": {"field": "lo", "type": "quantitative"}}},
   {"data": {"name": "summ"}, "transform": [{"filter": "datum.p=='Tfh2'"}], "mark": {"type": "tick", "color": "#000", "thickness": 2, "size": 17},
    "encoding": {"x": {"field": "g", "type": "nominal"}, "y": {"field": "hi", "type": "quantitative"}}}
  ]},
  {"width": 209, "height": 150, "layer": [
   {"data": {"name": "pts"}, "transform": [{"filter": "datum.p=='Tfh17'"}], "mark": {"type": "point", "filled": true, "color": "#000", "opacity": 1, "strokeWidth": 0},
    "encoding": {
     "x": {"field": "g", "type": "nominal", "scale": {"type": "band", "domain": ["IgG4-RD", "pSS", "MCD", "HC"], "paddingInner": 0, "paddingOuter": 0.04}, "axis": {"title": "Tfh17", "titleX": 109, "titleY": 75, "titleBaseline": "alphabetic", "labelOverlap": false}},
     "xOffset": {"field": "s", "type": "quantitative", "scale": {"domain": [-4, 4]}},
     "y": {"field": "v", "type": "quantitative", "scale": {"domain": [0, 25], "nice": false}, "axis": {"values": [0, 5, 10, 15, 20, 25], "title": "(10⁴ cells/mL)", "titleX": -36, "titleY": 20, "labelOverlap": false}},
     "shape": {"field": "g", "type": "nominal", "legend": null, "scale": {"domain": ["IgG4-RD", "pSS", "MCD", "HC"], "range": ["circle", "square", "M0,-0.9L1,0.85L-1,0.85Z", "M0,0.9L1,-0.85L-1,-0.85Z"]}},
     "size": {"field": "g", "type": "ordinal", "legend": null, "scale": {"domain": ["IgG4-RD", "pSS", "MCD", "HC"], "range": [58, 50, 90, 90]}}}},
   {"data": {"name": "ylab"}, "transform": [{"filter": "datum.p=='Tfh17'"}], "mark": {"type": "text", "fontSize": 12, "color": "#333", "align": "right", "baseline": "middle", "dx": -34.7},
    "encoding": {"x": {"field": "g", "type": "nominal"}, "y": {"field": "v", "type": "quantitative"}, "text": {"field": "t"}}},
   {"data": {"name": "sig"}, "transform": [{"filter": "datum.p=='Tfh17'"}], "mark": {"type": "rule", "color": "#8c8c8c", "strokeWidth": 1.5},
    "encoding": {"x": {"field": "a", "type": "nominal", "bandPosition": 0.5}, "x2": {"field": "b", "bandPosition": 0.5}, "y": {"field": "v", "type": "quantitative"}}},
   {"data": {"name": "sig"}, "transform": [{"filter": "datum.p=='Tfh17'"}], "mark": {"type": "text", "fontSize": 18, "dy": -11.5, "baseline": "alphabetic", "align": "center"},
    "encoding": {"x": {"field": "m", "type": "nominal"}, "xOffset": {"field": "s", "type": "quantitative"}, "y": {"field": "v", "type": "quantitative"}, "text": {"field": "t"}}},
   {"data": {"name": "summ"}, "transform": [{"filter": "datum.p=='Tfh17'"}], "mark": {"type": "rule", "color": "#000", "strokeWidth": 2},
    "encoding": {"x": {"field": "g", "type": "nominal"}, "y": {"field": "lo", "type": "quantitative"}, "y2": {"field": "hi"}}},
   {"data": {"name": "summ"}, "transform": [{"filter": "datum.p=='Tfh17'"}], "mark": {"type": "tick", "color": "#000", "thickness": 2, "size": 34},
    "encoding": {"x": {"field": "g", "type": "nominal"}, "y": {"field": "m", "type": "quantitative"}}},
   {"data": {"name": "summ"}, "transform": [{"filter": "datum.p=='Tfh17'"}], "mark": {"type": "tick", "color": "#000", "thickness": 2, "size": 17},
    "encoding": {"x": {"field": "g", "type": "nominal"}, "y": {"field": "lo", "type": "quantitative"}}},
   {"data": {"name": "summ"}, "transform": [{"filter": "datum.p=='Tfh17'"}], "mark": {"type": "tick", "color": "#000", "thickness": 2, "size": 17},
    "encoding": {"x": {"field": "g", "type": "nominal"}, "y": {"field": "hi", "type": "quantitative"}}}
  ]}
]
}
